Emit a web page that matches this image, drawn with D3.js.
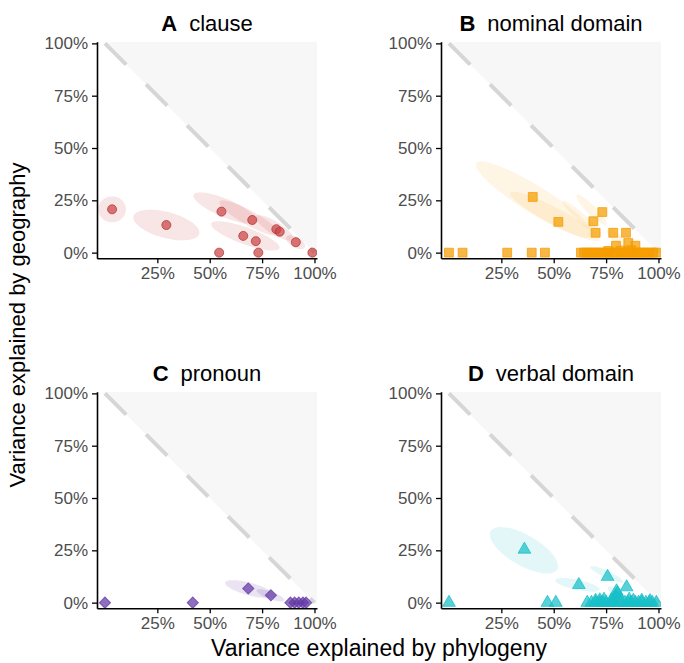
<!DOCTYPE html>
<html>
<head>
<meta charset="utf-8">
<title>Variance explained by phylogeny and geography</title>
<script src="https://d3js.org/d3.v7.min.js"></script>
<style>
  body { margin: 0; background: #fff; }
  text { font-family: "Liberation Sans", Arial, sans-serif; }
</style>
</head>
<body>
<div id="chart"></div>
<script>
// ---- data: [phylogeny, geography] ----
const clausePoints = [
  [0.034, 0.207], [0.293, 0.132], [0.556, 0.196], [0.703, 0.156], [0.818, 0.112],
  [0.834, 0.100], [0.660, 0.080], [0.720, 0.055], [0.911, 0.050], [0.545, 0.000],
  [0.732, 0.000], [0.990, 0.000]
];
const nominalPoints = [
  [0.400, 0.266], [0.522, 0.147], [0.732, 0.194], [0.689, 0.150], [0.700, 0.095],
  [0.784, 0.095], [0.845, 0.095], [0.797, 0.033], [0.856, 0.046], [0.890, 0.033],
  [0.000, 0.000], [0.065, 0.000], [0.278, 0.000], [0.395, 0.000], [0.458, 0.000],
  [0.630, 0.000], [0.645, 0.000], [0.660, 0.000], [0.675, 0.000], [0.690, 0.000],
  [0.705, 0.000], [0.720, 0.000], [0.735, 0.000], [0.750, 0.000], [0.765, 0.000],
  [0.780, 0.000], [0.795, 0.000], [0.810, 0.000], [0.825, 0.000], [0.840, 0.000],
  [0.855, 0.000], [0.870, 0.000], [0.885, 0.000], [0.900, 0.000], [0.915, 0.000],
  [0.930, 0.000], [0.945, 0.000], [0.960, 0.000], [0.975, 0.000], [0.990, 0.000],
  [0.820, 0.010], [0.870, 0.012], [0.760, 0.008]
];
const pronounPoints = [
  [0.000, 0.000], [0.419, 0.000], [0.684, 0.068], [0.792, 0.035], [0.885, 0.000],
  [0.905, 0.000], [0.925, 0.000], [0.945, 0.000], [0.960, 0.000]
];
const verbalPoints = [
  [0.000, 0.000], [0.360, 0.254], [0.470, 0.000], [0.510, 0.000], [0.620, 0.085],
  [0.757, 0.124], [0.848, 0.074], [0.800, 0.055], [0.795, 0.032], [0.805, 0.045],
  [0.660, 0.000], [0.680, 0.000], [0.700, 0.000], [0.720, 0.000], [0.735, 0.000],
  [0.750, 0.000], [0.770, 0.000], [0.785, 0.000], [0.800, 0.000], [0.820, 0.000],
  [0.840, 0.000], [0.855, 0.000], [0.870, 0.000], [0.890, 0.000], [0.905, 0.000],
  [0.920, 0.000], [0.940, 0.000], [0.955, 0.000], [0.970, 0.000], [0.990, 0.000],
  [0.740, 0.015], [0.790, 0.020], [0.860, 0.015], [0.920, 0.010], [0.700, 0.010],
  [0.960, 0.008], [0.775, 0.012], [0.815, 0.018], [0.880, 0.010], [0.720, 0.012]
];

// credible ellipses: [centre x, centre y, semi-major, semi-minor, tilt in degrees]
const clauseEllipses = [
  [0.034, 0.207, 0.066, 0.062, 0], [0.293, 0.132, 0.162, 0.062, 15],
  [0.573, 0.213, 0.163, 0.043, 23], [0.690, 0.165, 0.163, 0.035, 29],
  [0.670, 0.080, 0.173, 0.040, 20], [0.810, 0.118, 0.105, 0.030, 32],
  [0.910, 0.050, 0.050, 0.025, 30]
];
const nominalEllipses = [
  [0.410, 0.253, 0.330, 0.065, 32], [0.506, 0.173, 0.240, 0.040, 28],
  [0.680, 0.205, 0.100, 0.022, 45], [0.633, 0.166, 0.124, 0.020, 42],
  [0.800, 0.070, 0.060, 0.020, 40]
];
const pronounEllipses = [
  [0.690, 0.065, 0.120, 0.030, 15], [0.790, 0.035, 0.070, 0.018, 20]
];
const verbalEllipses = [
  [0.358, 0.250, 0.183, 0.073, 30], [0.613, 0.085, 0.108, 0.024, 12],
  [0.753, 0.135, 0.086, 0.017, 25], [0.800, 0.045, 0.050, 0.018, 35]
];

const xTicks = [0.25, 0.5, 0.75, 1];
const yTicks = [0, 0.25, 0.5, 0.75, 1];
const panelLetters = ["A", "B", "C", "D"];
const panelNames = ["clause", "nominal domain", "pronoun", "verbal domain"];

// ---- layout ----
const W = 684, H = 663;
const pw = 220, ph = 216.6;
const lefts = [97, 441], tops = [41.7, 391.7];

const panels = [
  {points: clausePoints, ellipses: clauseEllipses, color: "#cc4444", shape: "circle", ellOp: 0.14},
  {points: nominalPoints, ellipses: nominalEllipses, color: "#f59c00", shape: "square", ellOp: 0.10},
  {points: pronounPoints, ellipses: pronounEllipses, color: "#6439a6", shape: "diamond", ellOp: 0.14},
  {points: verbalPoints, ellipses: verbalEllipses, color: "#17bfc8", shape: "triangle", ellOp: 0.12}
];

const svg = d3.select("#chart").append("svg")
  .attr("width", W).attr("height", H);

const x = d3.scaleLinear().domain([-0.038, 1.012]).range([0, pw]);
const y = d3.scaleLinear().domain([-0.027, 1.008]).range([ph, 0]);
const pct = d3.format(".0%");

const symbols = {
  circle: d3.symbol().type(d3.symbolCircle).size(64),
  square: d3.symbol().type(d3.symbolSquare).size(78),
  diamond: d3.symbol().type(d3.symbolSquare).size(62),
  triangle: d3.symbol().type(d3.symbolTriangle).size(70)
};

// ellipse outline in data space, drawn through the scales
function ellipsePath(e) {
  const [cx, cy, a, b, tilt] = e;
  const phi = -tilt * Math.PI / 180;
  const pts = d3.range(0, 2 * Math.PI, Math.PI / 40).map(t => {
    const dx = a * Math.cos(t), dy = b * Math.sin(t);
    return [cx + dx * Math.cos(phi) - dy * Math.sin(phi),
            cy + dx * Math.sin(phi) + dy * Math.cos(phi)];
  });
  return d3.line().x(d => x(d[0])).y(d => y(d[1])).curve(d3.curveLinearClosed)(pts);
}

panels.forEach((p, i) => {
  const g = svg.append("g")
    .attr("transform", `translate(${lefts[i % 2]}, ${tops[Math.floor(i / 2)]})`);

  g.append("clipPath").attr("id", "clip" + i)
    .append("rect").attr("width", pw).attr("height", ph);

  const body = g.append("g").attr("clip-path", `url(#clip${i})`);

  // shaded area where phylogeny + geography > 1
  const xMax = x.domain()[1], yMax = y.domain()[1];
  body.append("path")
    .attr("d", d3.line().x(d => x(d[0])).y(d => y(d[1]))(
      [[1 - yMax, yMax], [xMax, yMax], [xMax, 1 - xMax]]))
    .attr("fill", "#f7f7f7");

  body.append("line")
    .attr("x1", x(0)).attr("y1", y(1))
    .attr("x2", x(1)).attr("y2", y(0))
    .attr("stroke", "#d6d6d6")
    .attr("stroke-width", 4)
    .attr("stroke-dasharray", "30 28");

  body.selectAll(".ell")
    .data(p.ellipses)
    .enter().append("path")
    .attr("d", ellipsePath)
    .attr("fill", p.color)
    .attr("fill-opacity", p.ellOp);

  body.selectAll(".pt")
    .data(p.points)
    .enter().append("path")
    .attr("d", symbols[p.shape])
    .attr("transform", d => `translate(${x(d[0])}, ${y(d[1])})` +
      (p.shape === "diamond" ? " rotate(45)" : ""))
    .attr("fill", p.color)
    .attr("fill-opacity", 0.72)
    .attr("stroke", p.shape === "circle" ? "#b03636" : p.color)
    .attr("stroke-opacity", 0.75)
    .attr("stroke-width", 1);

  // axes
  const xAxis = g.append("g")
    .attr("transform", `translate(0, ${ph})`)
    .call(d3.axisBottom(x).tickValues(xTicks).tickFormat(pct).tickSize(5).tickPadding(4).tickSizeOuter(0));
  const yAxis = g.append("g")
    .call(d3.axisLeft(y).tickValues(yTicks).tickFormat(pct).tickSize(5).tickPadding(4).tickSizeOuter(0));

  [xAxis, yAxis].forEach(ax => {
    ax.select(".domain").attr("stroke", "#000").attr("stroke-width", 1.6);
    ax.selectAll(".tick line").attr("stroke", "#000").attr("stroke-width", 1.3);
    ax.selectAll(".tick text")
      .attr("fill", "#4d4d4d")
      .style("font-size", "17px")
      .style("font-family", "'Liberation Sans', Arial, sans-serif");
  });

  // panel title
  const title = g.append("text")
    .attr("x", pw / 2)
    .attr("y", -11)
    .attr("text-anchor", "middle")
    .style("font-size", "22px")
    .attr("fill", "#000");
  title.append("tspan").attr("font-weight", "bold").text(panelLetters[i]);
  title.append("tspan").attr("dx", 12).text(panelNames[i]);
});

// axis titles
svg.append("text")
  .attr("x", (lefts[0] + lefts[1] + pw) / 2)
  .attr("y", 656)
  .attr("text-anchor", "middle")
  .style("font-size", "23px")
  .text("Variance explained by phylogeny");

svg.append("text")
  .attr("transform", `translate(25, ${(tops[0] + tops[1] + ph) / 2}) rotate(-90)`)
  .attr("text-anchor", "middle")
  .style("font-size", "22px")
  .text("Variance explained by geography");
</script>
</body>
</html>
